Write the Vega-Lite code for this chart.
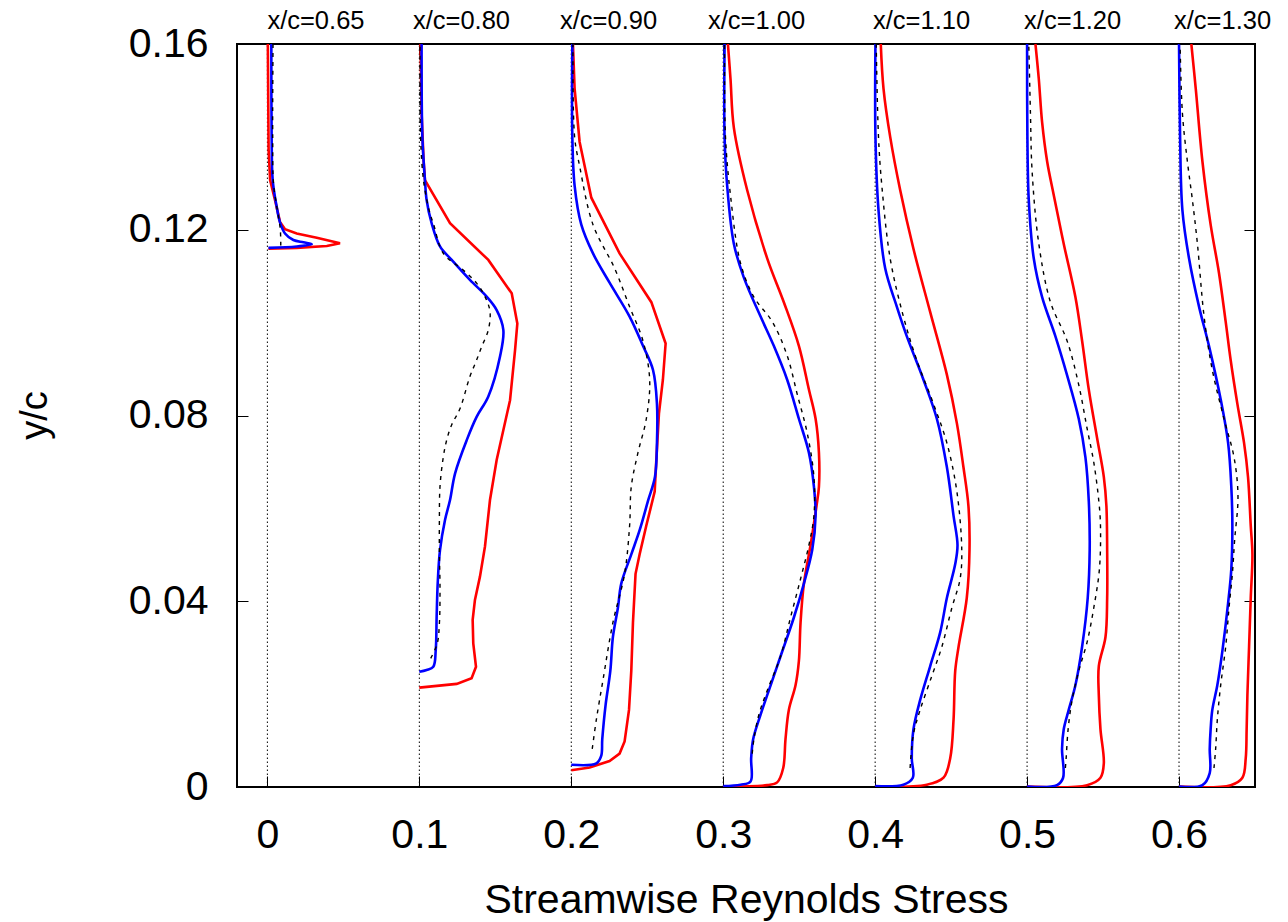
{
  "$schema": "https://vega.github.io/schema/vega-lite/v6.json",
  "autosize": {"type": "none"},
  "padding": {"left": 237, "top": 44, "right": 33, "bottom": 135},
  "width": 1018,
  "height": 743,
  "background": "white",
  "config": {
    "view": {"stroke": "black", "strokeWidth": 2},
    "font": "Liberation Sans",
    "axis": {"grid": false, "domain": false, "tickColor": "black", "tickWidth": 1, "labelColor": "black", "titleColor": "black", "labelFont": "Liberation Sans", "titleFont": "Liberation Sans", "titleFontWeight": "normal"}
  },
  "datasets": {
    "base": [{"b": 0}, {"b": 0.1}, {"b": 0.2}, {"b": 0.3}, {"b": 0.4}, {"b": 0.5}, {"b": 0.6}],
    "labels": [
      {"lx": 0.0, "t": "x/c=0.65"}, {"lx": 0.0958, "t": "x/c=0.80"}, {"lx": 0.1926, "t": "x/c=0.90"},
      {"lx": 0.29, "t": "x/c=1.00"}, {"lx": 0.3986, "t": "x/c=1.10"}, {"lx": 0.498, "t": "x/c=1.20"}, {"lx": 0.5967, "t": "x/c=1.30"}
    ],
    "red": [
      {"st":0,"y":0.16,"x":0.0003},{"st":0,"y":0.1372,"x":0.0008},{"st":0,"y":0.1307,"x":0.0018},{"st":0,"y":0.1264,"x":0.005},{"st":0,"y":0.1217,"x":0.0083},{"st":0,"y":0.1201,"x":0.0116},{"st":0,"y":0.1192,"x":0.0193},{"st":0,"y":0.1183,"x":0.0325},{"st":0,"y":0.1171,"x":0.0478},{"st":0,"y":0.1165,"x":0.0391},{"st":0,"y":0.1161,"x":0.0193},{"st":0,"y":0.1159,"x":0.0007},
      {"st":1,"y":0.16,"x":0.1008},{"st":1,"y":0.145,"x":0.1015},{"st":1,"y":0.135,"x":0.1028},{"st":1,"y":0.1307,"x":0.1037},{"st":1,"y":0.1214,"x":0.1202},{"st":1,"y":0.1135,"x":0.1454},{"st":1,"y":0.1063,"x":0.1608},{"st":1,"y":0.0998,"x":0.1645},{"st":1,"y":0.0941,"x":0.163},{"st":1,"y":0.0833,"x":0.1597},{"st":1,"y":0.0704,"x":0.1509},{"st":1,"y":0.0618,"x":0.1465},{"st":1,"y":0.0518,"x":0.1432},{"st":1,"y":0.0453,"x":0.1399},{"st":1,"y":0.0403,"x":0.1366},{"st":1,"y":0.036,"x":0.1351},{"st":1,"y":0.0309,"x":0.1355},{"st":1,"y":0.0259,"x":0.1373},{"st":1,"y":0.0234,"x":0.1344},{"st":1,"y":0.0222,"x":0.1246},{"st":1,"y":0.0214,"x":0.1},
      {"st":2,"y":0.16,"x":0.2011},{"st":2,"y":0.1504,"x":0.2022},{"st":2,"y":0.1389,"x":0.2055},{"st":2,"y":0.1269,"x":0.2132},{"st":2,"y":0.1149,"x":0.2318},{"st":2,"y":0.1044,"x":0.2527},{"st":2,"y":0.0955,"x":0.2621},{"st":2,"y":0.0877,"x":0.2603},{"st":2,"y":0.0804,"x":0.2577},{"st":2,"y":0.0699,"x":0.2559},{"st":2,"y":0.0636,"x":0.2549},{"st":2,"y":0.0563,"x":0.2494},{"st":2,"y":0.0501,"x":0.245},{"st":2,"y":0.0459,"x":0.2423},{"st":2,"y":0.0354,"x":0.2406},{"st":2,"y":0.025,"x":0.2395},{"st":2,"y":0.0166,"x":0.238},{"st":2,"y":0.0098,"x":0.2351},{"st":2,"y":0.0072,"x":0.2318},{"st":2,"y":0.0056,"x":0.2252},{"st":2,"y":0.0042,"x":0.2121},{"st":2,"y":0.0036,"x":0.2},
      {"st":3,"y":0.16,"x":0.3031},{"st":3,"y":0.1525,"x":0.3048},{"st":3,"y":0.142,"x":0.307},{"st":3,"y":0.1285,"x":0.3158},{"st":3,"y":0.1138,"x":0.329},{"st":3,"y":0.1044,"x":0.3399},{"st":3,"y":0.095,"x":0.3498},{"st":3,"y":0.0856,"x":0.3564},{"st":3,"y":0.0793,"x":0.3608},{"st":3,"y":0.072,"x":0.363},{"st":3,"y":0.0647,"x":0.363},{"st":3,"y":0.0605,"x":0.3614},{"st":3,"y":0.0521,"x":0.3575},{"st":3,"y":0.0438,"x":0.3531},{"st":3,"y":0.0354,"x":0.3509},{"st":3,"y":0.0271,"x":0.3498},{"st":3,"y":0.0219,"x":0.3476},{"st":3,"y":0.0166,"x":0.3432},{"st":3,"y":0.0103,"x":0.341},{"st":3,"y":0.0041,"x":0.3395},{"st":3,"y":0.001,"x":0.3355},{"st":3,"y":0.0004,"x":0.329},{"st":3,"y":0.0001,"x":0.3},
      {"st":4,"y":0.16,"x":0.4037},{"st":4,"y":0.1504,"x":0.4055},{"st":4,"y":0.14,"x":0.4099},{"st":4,"y":0.1285,"x":0.4165},{"st":4,"y":0.1159,"x":0.4252},{"st":4,"y":0.1023,"x":0.4362},{"st":4,"y":0.0888,"x":0.4472},{"st":4,"y":0.0783,"x":0.4538},{"st":4,"y":0.0689,"x":0.4581},{"st":4,"y":0.0605,"x":0.4614},{"st":4,"y":0.0511,"x":0.4621},{"st":4,"y":0.0407,"x":0.4603},{"st":4,"y":0.0302,"x":0.4549},{"st":4,"y":0.025,"x":0.4527},{"st":4,"y":0.0145,"x":0.4516},{"st":4,"y":0.0062,"x":0.4494},{"st":4,"y":0.002,"x":0.445},{"st":4,"y":0.0005,"x":0.434},{"st":4,"y":0.0001,"x":0.4},
      {"st":5,"y":0.16,"x":0.5055},{"st":5,"y":0.1525,"x":0.5077},{"st":5,"y":0.1431,"x":0.5099},{"st":5,"y":0.1347,"x":0.5132},{"st":5,"y":0.1274,"x":0.5176},{"st":5,"y":0.117,"x":0.5241},{"st":5,"y":0.1055,"x":0.5318},{"st":5,"y":0.0961,"x":0.5362},{"st":5,"y":0.0856,"x":0.5406},{"st":5,"y":0.0751,"x":0.5461},{"st":5,"y":0.0668,"x":0.5505},{"st":5,"y":0.0605,"x":0.5522},{"st":5,"y":0.0511,"x":0.5527},{"st":5,"y":0.0407,"x":0.5527},{"st":5,"y":0.0323,"x":0.5516},{"st":5,"y":0.026,"x":0.5472},{"st":5,"y":0.0198,"x":0.5472},{"st":5,"y":0.0124,"x":0.5483},{"st":5,"y":0.0051,"x":0.5505},{"st":5,"y":0.002,"x":0.5483},{"st":5,"y":0.0004,"x":0.5395},{"st":5,"y":0.0001,"x":0.5},
      {"st":6,"y":0.16,"x":0.6081},{"st":6,"y":0.1504,"x":0.611},{"st":6,"y":0.1347,"x":0.6154},{"st":6,"y":0.1211,"x":0.6208},{"st":6,"y":0.1107,"x":0.6263},{"st":6,"y":0.1002,"x":0.6307},{"st":6,"y":0.0919,"x":0.634},{"st":6,"y":0.0825,"x":0.6384},{"st":6,"y":0.0741,"x":0.6428},{"st":6,"y":0.0668,"x":0.6454},{"st":6,"y":0.0563,"x":0.6472},{"st":6,"y":0.0501,"x":0.6483},{"st":6,"y":0.0407,"x":0.6472},{"st":6,"y":0.0302,"x":0.6461},{"st":6,"y":0.0198,"x":0.645},{"st":6,"y":0.0124,"x":0.6445},{"st":6,"y":0.0062,"x":0.6439},{"st":6,"y":0.002,"x":0.6417},{"st":6,"y":0.0004,"x":0.634},{"st":6,"y":0.0001,"x":0.6}
    ],
    "blue": [
      {"st":0,"y":0.16,"x":0.0026},{"st":0,"y":0.14,"x":0.0028},{"st":0,"y":0.1307,"x":0.0035},{"st":0,"y":0.125,"x":0.0061},{"st":0,"y":0.1216,"x":0.0083},{"st":0,"y":0.1192,"x":0.0116},{"st":0,"y":0.1178,"x":0.0171},{"st":0,"y":0.1173,"x":0.0237},{"st":0,"y":0.1169,"x":0.0292},{"st":0,"y":0.1164,"x":0.0193},{"st":0,"y":0.1161,"x":0.0007},
      {"st":1,"y":0.16,"x":0.1015},{"st":1,"y":0.14,"x":0.102},{"st":1,"y":0.1307,"x":0.1037},{"st":1,"y":0.1264,"x":0.1048},{"st":1,"y":0.1214,"x":0.1081},{"st":1,"y":0.1164,"x":0.1136},{"st":1,"y":0.1135,"x":0.1213},{"st":1,"y":0.1092,"x":0.1333},{"st":1,"y":0.1056,"x":0.1443},{"st":1,"y":0.1027,"x":0.1509},{"st":1,"y":0.0984,"x":0.1553},{"st":1,"y":0.0927,"x":0.1531},{"st":1,"y":0.0841,"x":0.1454},{"st":1,"y":0.0797,"x":0.1377},{"st":1,"y":0.0747,"x":0.1312},{"st":1,"y":0.0675,"x":0.1235},{"st":1,"y":0.0618,"x":0.1202},{"st":1,"y":0.0575,"x":0.1169},{"st":1,"y":0.051,"x":0.1136},{"st":1,"y":0.0439,"x":0.1121},{"st":1,"y":0.0367,"x":0.1114},{"st":1,"y":0.0295,"x":0.1108},{"st":1,"y":0.0259,"x":0.1092},{"st":1,"y":0.0252,"x":0.1048},{"st":1,"y":0.0248,"x":0.1},
      {"st":2,"y":0.16,"x":0.2007},{"st":2,"y":0.14,"x":0.2007},{"st":2,"y":0.1295,"x":0.2022},{"st":2,"y":0.1211,"x":0.2066},{"st":2,"y":0.1149,"x":0.2143},{"st":2,"y":0.1086,"x":0.2252},{"st":2,"y":0.1013,"x":0.2384},{"st":2,"y":0.095,"x":0.2472},{"st":2,"y":0.0898,"x":0.2538},{"st":2,"y":0.0825,"x":0.2564},{"st":2,"y":0.0741,"x":0.2564},{"st":2,"y":0.0668,"x":0.2551},{"st":2,"y":0.0616,"x":0.2505},{"st":2,"y":0.0553,"x":0.245},{"st":2,"y":0.0501,"x":0.2395},{"st":2,"y":0.0438,"x":0.2329},{"st":2,"y":0.0386,"x":0.2307},{"st":2,"y":0.0323,"x":0.2274},{"st":2,"y":0.025,"x":0.2257},{"st":2,"y":0.0177,"x":0.2226},{"st":2,"y":0.0103,"x":0.2204},{"st":2,"y":0.0067,"x":0.2197},{"st":2,"y":0.0051,"x":0.2165},{"st":2,"y":0.0048,"x":0.2},
      {"st":3,"y":0.16,"x":0.3009},{"st":3,"y":0.14,"x":0.3009},{"st":3,"y":0.1295,"x":0.3026},{"st":3,"y":0.117,"x":0.307},{"st":3,"y":0.1097,"x":0.3136},{"st":3,"y":0.1013,"x":0.3246},{"st":3,"y":0.095,"x":0.3333},{"st":3,"y":0.0877,"x":0.3421},{"st":3,"y":0.0793,"x":0.3498},{"st":3,"y":0.072,"x":0.3564},{"st":3,"y":0.0647,"x":0.3597},{"st":3,"y":0.0584,"x":0.3608},{"st":3,"y":0.0511,"x":0.3586},{"st":3,"y":0.0438,"x":0.3531},{"st":3,"y":0.0365,"x":0.3465},{"st":3,"y":0.0281,"x":0.3377},{"st":3,"y":0.0219,"x":0.3312},{"st":3,"y":0.0156,"x":0.3246},{"st":3,"y":0.0103,"x":0.3197},{"st":3,"y":0.0062,"x":0.3184},{"st":3,"y":0.0012,"x":0.318},{"st":3,"y":0.0005,"x":0.3114},{"st":3,"y":0.0002,"x":0.3},
      {"st":4,"y":0.16,"x":0.4002},{"st":4,"y":0.14,"x":0.4002},{"st":4,"y":0.1243,"x":0.4022},{"st":4,"y":0.1117,"x":0.4066},{"st":4,"y":0.1034,"x":0.4143},{"st":4,"y":0.0971,"x":0.4208},{"st":4,"y":0.0877,"x":0.4318},{"st":4,"y":0.0793,"x":0.4406},{"st":4,"y":0.0689,"x":0.4472},{"st":4,"y":0.0584,"x":0.4516},{"st":4,"y":0.0521,"x":0.4542},{"st":4,"y":0.048,"x":0.4527},{"st":4,"y":0.0407,"x":0.4472},{"st":4,"y":0.0333,"x":0.4428},{"st":4,"y":0.026,"x":0.4362},{"st":4,"y":0.0187,"x":0.4296},{"st":4,"y":0.0124,"x":0.4252},{"st":4,"y":0.0062,"x":0.4241},{"st":4,"y":0.002,"x":0.4248},{"st":4,"y":0.0005,"x":0.4186},{"st":4,"y":0.0002,"x":0.4},
      {"st":5,"y":0.16,"x":0.5},{"st":5,"y":0.14,"x":0.5002},{"st":5,"y":0.1264,"x":0.5011},{"st":5,"y":0.1138,"x":0.5044},{"st":5,"y":0.1055,"x":0.5099},{"st":5,"y":0.0971,"x":0.5186},{"st":5,"y":0.0887,"x":0.5263},{"st":5,"y":0.0793,"x":0.534},{"st":5,"y":0.071,"x":0.5384},{"st":5,"y":0.0616,"x":0.5406},{"st":5,"y":0.0511,"x":0.5412},{"st":5,"y":0.0407,"x":0.5399},{"st":5,"y":0.0302,"x":0.5362},{"st":5,"y":0.0219,"x":0.5318},{"st":5,"y":0.0166,"x":0.5274},{"st":5,"y":0.0124,"x":0.5241},{"st":5,"y":0.0082,"x":0.523},{"st":5,"y":0.002,"x":0.5237},{"st":5,"y":0.0004,"x":0.5197},{"st":5,"y":0.0001,"x":0.5},
      {"st":6,"y":0.16,"x":0.6},{"st":6,"y":0.14,"x":0.6007},{"st":6,"y":0.1243,"x":0.6022},{"st":6,"y":0.1138,"x":0.6066},{"st":6,"y":0.1034,"x":0.6132},{"st":6,"y":0.095,"x":0.6197},{"st":6,"y":0.0835,"x":0.6274},{"st":6,"y":0.0741,"x":0.6323},{"st":6,"y":0.0647,"x":0.6344},{"st":6,"y":0.0563,"x":0.6351},{"st":6,"y":0.0469,"x":0.6344},{"st":6,"y":0.0396,"x":0.6323},{"st":6,"y":0.0292,"x":0.6285},{"st":6,"y":0.0219,"x":0.6252},{"st":6,"y":0.0166,"x":0.6219},{"st":6,"y":0.0124,"x":0.6208},{"st":6,"y":0.0082,"x":0.6202},{"st":6,"y":0.003,"x":0.6202},{"st":6,"y":0.0004,"x":0.6154},{"st":6,"y":0.0001,"x":0.6}
    ],
    "dash": [
      {"st":0,"y":0.16,"x":0.0037},{"st":0,"y":0.14,"x":0.0035},{"st":0,"y":0.13,"x":0.004},{"st":0,"y":0.125,"x":0.0062},{"st":0,"y":0.12,"x":0.0085},{"st":0,"y":0.1166,"x":0.0088},
      {"st":1,"y":0.16,"x":0.1005},{"st":1,"y":0.14,"x":0.1008},{"st":1,"y":0.13,"x":0.103},{"st":1,"y":0.1235,"x":0.107},{"st":1,"y":0.1214,"x":0.1092},{"st":1,"y":0.1149,"x":0.1158},{"st":1,"y":0.1113,"x":0.129},{"st":1,"y":0.1085,"x":0.1377},{"st":1,"y":0.1056,"x":0.1432},{"st":1,"y":0.1024,"x":0.1465},{"st":1,"y":0.0984,"x":0.1454},{"st":1,"y":0.0948,"x":0.141},{"st":1,"y":0.0916,"x":0.1373},{"st":1,"y":0.0884,"x":0.1333},{"st":1,"y":0.0815,"x":0.1268},{"st":1,"y":0.078,"x":0.1213},{"st":1,"y":0.0747,"x":0.118},{"st":1,"y":0.0711,"x":0.1158},{"st":1,"y":0.0647,"x":0.1136},{"st":1,"y":0.0575,"x":0.1132},{"st":1,"y":0.0503,"x":0.1132},{"st":1,"y":0.0431,"x":0.1136},{"st":1,"y":0.0352,"x":0.1132},{"st":1,"y":0.0309,"x":0.1118},{"st":1,"y":0.0277,"x":0.1075},
      {"st":2,"y":0.16,"x":0.2011},{"st":2,"y":0.14,"x":0.2022},{"st":2,"y":0.1337,"x":0.2055},{"st":2,"y":0.1211,"x":0.2143},{"st":2,"y":0.1117,"x":0.2285},{"st":2,"y":0.1034,"x":0.2384},{"st":2,"y":0.0961,"x":0.2472},{"st":2,"y":0.0877,"x":0.2516},{"st":2,"y":0.0793,"x":0.2494},{"st":2,"y":0.072,"x":0.2439},{"st":2,"y":0.0647,"x":0.2395},{"st":2,"y":0.0563,"x":0.2384},{"st":2,"y":0.0459,"x":0.2351},{"st":2,"y":0.0354,"x":0.2274},{"st":2,"y":0.0229,"x":0.2208},{"st":2,"y":0.0145,"x":0.2165},{"st":2,"y":0.0082,"x":0.2138},
      {"st":3,"y":0.16,"x":0.3009},{"st":3,"y":0.14,"x":0.3015},{"st":3,"y":0.1274,"x":0.3048},{"st":3,"y":0.1128,"x":0.3114},{"st":3,"y":0.1055,"x":0.3202},{"st":3,"y":0.1002,"x":0.3323},{"st":3,"y":0.0929,"x":0.3421},{"st":3,"y":0.0846,"x":0.3487},{"st":3,"y":0.0762,"x":0.3553},{"st":3,"y":0.0668,"x":0.3597},{"st":3,"y":0.0584,"x":0.3597},{"st":3,"y":0.0521,"x":0.3564},{"st":3,"y":0.0448,"x":0.3509},{"st":3,"y":0.0365,"x":0.3443},{"st":3,"y":0.0281,"x":0.3377},{"st":3,"y":0.0208,"x":0.329},{"st":3,"y":0.0156,"x":0.3235},{"st":3,"y":0.0103,"x":0.3202},{"st":3,"y":0.0072,"x":0.3191},
      {"st":4,"y":0.16,"x":0.4007},{"st":4,"y":0.14,"x":0.4022},{"st":4,"y":0.1295,"x":0.4044},{"st":4,"y":0.1138,"x":0.4099},{"st":4,"y":0.1013,"x":0.4186},{"st":4,"y":0.0919,"x":0.4274},{"st":4,"y":0.0825,"x":0.4384},{"st":4,"y":0.0741,"x":0.4472},{"st":4,"y":0.0636,"x":0.4538},{"st":4,"y":0.0511,"x":0.457},{"st":4,"y":0.0448,"x":0.4559},{"st":4,"y":0.0386,"x":0.4505},{"st":4,"y":0.0302,"x":0.4439},{"st":4,"y":0.0239,"x":0.4373},{"st":4,"y":0.0166,"x":0.4296},{"st":4,"y":0.0114,"x":0.4252},{"st":4,"y":0.0041,"x":0.423},
      {"st":5,"y":0.16,"x":0.5011},{"st":5,"y":0.1452,"x":0.5022},{"st":5,"y":0.1326,"x":0.5033},{"st":5,"y":0.117,"x":0.5077},{"st":5,"y":0.1044,"x":0.5154},{"st":5,"y":0.0961,"x":0.5263},{"st":5,"y":0.0866,"x":0.534},{"st":5,"y":0.0772,"x":0.5395},{"st":5,"y":0.0699,"x":0.5439},{"st":5,"y":0.0616,"x":0.5472},{"st":5,"y":0.0563,"x":0.5483},{"st":5,"y":0.0469,"x":0.5476},{"st":5,"y":0.0386,"x":0.5439},{"st":5,"y":0.0312,"x":0.5395},{"st":5,"y":0.025,"x":0.534},{"st":5,"y":0.0187,"x":0.5296},{"st":5,"y":0.0124,"x":0.527},{"st":5,"y":0.0062,"x":0.5257},{"st":5,"y":0.0041,"x":0.5252},
      {"st":6,"y":0.16,"x":0.6007},{"st":6,"y":0.1452,"x":0.6022},{"st":6,"y":0.1347,"x":0.6055},{"st":6,"y":0.1264,"x":0.6088},{"st":6,"y":0.117,"x":0.6121},{"st":6,"y":0.1013,"x":0.6165},{"st":6,"y":0.0898,"x":0.6219},{"st":6,"y":0.0793,"x":0.6296},{"st":6,"y":0.071,"x":0.6362},{"st":6,"y":0.0626,"x":0.6388},{"st":6,"y":0.0532,"x":0.6366},{"st":6,"y":0.0459,"x":0.6351},{"st":6,"y":0.0386,"x":0.6329},{"st":6,"y":0.0302,"x":0.6307},{"st":6,"y":0.0219,"x":0.6274},{"st":6,"y":0.0145,"x":0.6252},{"st":6,"y":0.0082,"x":0.6241},{"st":6,"y":0.0041,"x":0.623}
    ]
  },
  "resolve": {"axis": {"x": "independent", "y": "independent"}},
  "layer": [
    {
      "data": {"name": "base"},
      "mark": {"type": "rule", "color": "black", "strokeWidth": 1, "strokeDash": [1.5, 2.5]},
      "encoding": {
        "x": {"field": "b", "type": "quantitative",
          "scale": {"domain": [-0.02, 0.65], "nice": false, "zero": false},
          "axis": {"orient": "bottom", "values": [0, 0.1, 0.2, 0.3, 0.4, 0.5, 0.6], "format": "~g", "tickSize": -11, "labelPadding": 39, "labelFontSize": 41, "labelFlush": false, "title": "Streamwise Reynolds Stress", "titleFontSize": 41, "titleY": 125, "titleBaseline": "alphabetic"}},
        "y": {"datum": 0, "type": "quantitative",
          "scale": {"domain": [0, 0.16], "nice": false, "zero": false},
          "axis": {"orient": "left", "values": [0, 0.04, 0.08, 0.12, 0.16], "format": "~g", "tickSize": -11, "labelPadding": 40, "labelFontSize": 41, "labelFlush": false, "title": "y/c", "titleFontSize": 38, "titleX": -191, "titleY": 371, "titleAngle": -90, "titleBaseline": "alphabetic", "titleAlign": "center"}},
        "y2": {"datum": 0.16}
      }
    },
    {
      "data": {"name": "red"},
      "transform": [{"filter": "datum.st <= 2"}],
      "mark": {"type": "line", "color": "#ff0000", "strokeWidth": 2.6, "clip": true},
      "encoding": {
        "x": {"field": "x", "type": "quantitative", "axis": {"orient": "top", "values": [0, 0.1, 0.2, 0.3, 0.4, 0.5, 0.6], "tickSize": -11, "labels": false, "title": null}},
        "y": {"field": "y", "type": "quantitative", "axis": {"orient": "right", "values": [0, 0.04, 0.08, 0.12, 0.16], "tickSize": -11, "labels": false, "title": null}},
        "detail": {"field": "st"},
        "order": {"field": "y"}
      }
    },
    {
      "data": {"name": "red"},
      "transform": [{"filter": "datum.st >= 3"}],
      "mark": {"type": "line", "color": "#ff0000", "strokeWidth": 2.6, "clip": true, "interpolate": "catmull-rom"},
      "encoding": {
        "x": {"field": "x", "type": "quantitative", "axis": null},
        "y": {"field": "y", "type": "quantitative", "axis": null},
        "detail": {"field": "st"},
        "order": {"field": "y"}
      }
    },
    {
      "data": {"name": "blue"},
      "mark": {"type": "line", "color": "#0000ff", "strokeWidth": 2.6, "clip": true, "interpolate": "catmull-rom"},
      "encoding": {
        "x": {"field": "x", "type": "quantitative", "axis": null},
        "y": {"field": "y", "type": "quantitative", "axis": null},
        "detail": {"field": "st"},
        "order": {"field": "y"}
      }
    },
    {
      "data": {"name": "dash"},
      "mark": {"type": "line", "color": "black", "strokeWidth": 1.4, "strokeDash": [4, 5], "clip": true, "interpolate": "catmull-rom"},
      "encoding": {
        "x": {"field": "x", "type": "quantitative", "axis": null},
        "y": {"field": "y", "type": "quantitative", "axis": null},
        "detail": {"field": "st"},
        "order": {"field": "y"}
      }
    },
    {
      "data": {"name": "labels"},
      "mark": {"type": "text", "align": "left", "baseline": "alphabetic", "dy": -15, "fontSize": 25.5, "font": "Liberation Sans", "color": "black"},
      "encoding": {
        "x": {"field": "lx", "type": "quantitative", "axis": null},
        "y": {"datum": 0.16, "type": "quantitative", "axis": null},
        "text": {"field": "t"}
      }
    }
  ]
}
